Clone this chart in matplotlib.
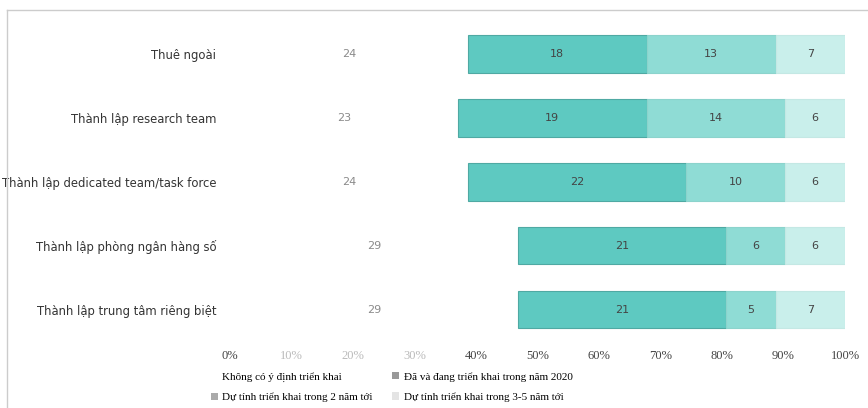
import matplotlib.pyplot as plt
from matplotlib.patches import Patch
import numpy as np

categories = ['Thuê ngoài', 'Thành lập research team', 'Thành lập dedicated team/task force',
              'Thành lập phòng ngân hàng số', 'Thành lập trung tâm riêng biệt']
khong = [24, 23, 24, 29, 29]
da_dang = [18, 19, 22, 21, 21]
hai_nam = [13, 14, 10, 6, 5]
ba_nam_nam = [7, 6, 6, 6, 7]
series_names = ['Không có ý định triển khai', 'Đã và đang triển khai trong năm 2020',
                'Dự tính triển khai trong 2 năm tới', 'Dự tính triển khai trong 3-5 năm tới']
tick_labels = ['0%', '10%', '20%', '30%', '40%', '50%', '60%', '70%', '80%', '90%', '100%']

colors = ['white', '#5ec9c1', '#8fdcd5', '#c9efeb']
edge = ['none', '#4fa9a3', '#8cd3cc', '#c4e8e4']

data = np.array([khong, da_dang, hai_nam, ba_nam_nam], dtype=float)
share = data / data.sum(axis=0) * 100

fig = plt.figure(figsize=(8.68, 4.08), dpi=100)
ax = fig.add_axes([0.265, 0.162, 0.7085, 0.784])

y = np.arange(len(categories))
left = np.zeros(len(categories))
for i in range(4):
    ax.barh(y, share[i], left=left, height=0.58, color=colors[i],
            edgecolor=edge[i], linewidth=0.8)
    for j in range(len(categories)):
        ax.text(left[j] + share[i][j] / 2, y[j], str(int(data[i][j])),
                ha='center', va='center', fontsize=8,
                color='#8a8a8a' if i == 0 else '#444444')
    left += share[i]

ax.set_xlim(0, 100)
ax.set_ylim(4.5, -0.5)
ax.set_yticks(y)
ax.set_yticklabels(categories, fontsize=9.3, color='#333333',
                   family='DejaVu Sans', stretch='condensed')
ax.set_xticks(np.arange(0, 101, 10))
ax.set_xticklabels(tick_labels, fontsize=9, family='Liberation Serif', color='#444444')
for k in (1, 2, 3):
    ax.get_xticklabels()[k].set_color('#bbbbbb')
ax.tick_params(axis='both', length=0)
ax.tick_params(axis='y', pad=10)
ax.tick_params(axis='x', pad=6)
for s in ax.spines.values():
    s.set_visible(False)

handles = [Patch(facecolor='white', edgecolor='none'),
           Patch(facecolor='#999999'),
           Patch(facecolor='#aaaaaa'),
           Patch(facecolor='#e4e4e4')]
order = [0, 2, 1, 3]
fig.legend([handles[i] for i in order], [series_names[i] for i in order],
           ncol=2, loc='lower left', bbox_to_anchor=(0.232, -0.01), frameon=False,
           prop={'family': 'Liberation Serif', 'size': 8}, handlelength=0.6,
           handleheight=0.6, handletextpad=0.4, columnspacing=1.75, labelspacing=0.95)

# frame lines
fig.add_artist(plt.Line2D([0.008, 0.008], [0, 0.975], color='#cccccc', lw=1))
fig.add_artist(plt.Line2D([0.008, 1], [0.975, 0.975], color='#cccccc', lw=1))

fig.savefig('out.png', dpi=100)
